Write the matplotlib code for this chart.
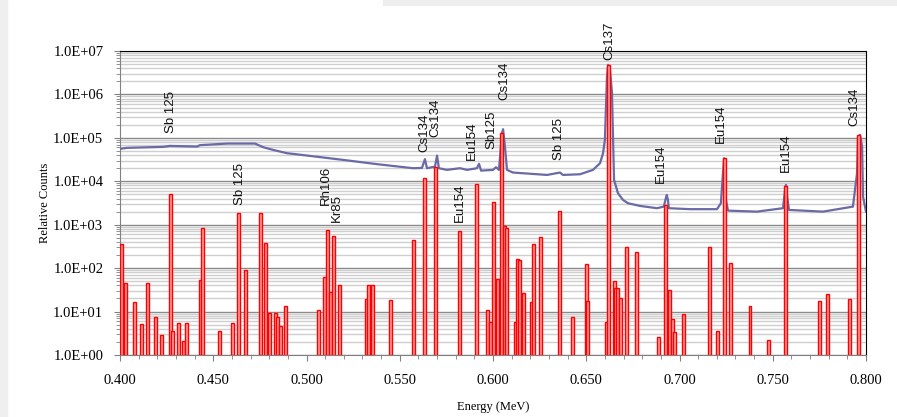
import matplotlib
matplotlib.use("Agg")
import matplotlib.pyplot as plt
from matplotlib.ticker import FuncFormatter, MultipleLocator, LogLocator, NullFormatter
from matplotlib.patches import Rectangle

# Measured spectrum (energy in MeV, relative counts)
spec_energy = [0.4000, 0.4038, 0.4231, 0.4268, 0.4413, 0.4429, 0.4574, 0.4724, 0.4767,
               0.4820, 0.4895, 0.5019, 0.5196, 0.5378, 0.5571, 0.5619, 0.5635, 0.5646,
               0.5689, 0.5700, 0.5710, 0.5753, 0.5823, 0.5861, 0.5914, 0.5925, 0.5936,
               0.6000, 0.6016, 0.6032, 0.6048, 0.6054, 0.6064, 0.6075, 0.6107, 0.6290,
               0.6359, 0.6375, 0.6466, 0.6536, 0.6574, 0.6590, 0.6600, 0.6611, 0.6617,
               0.6627, 0.6638, 0.6643, 0.6649, 0.6670, 0.6697, 0.6724, 0.6788, 0.6879,
               0.6916, 0.6927, 0.6932, 0.6938, 0.6943, 0.7056, 0.7201, 0.7222, 0.7233,
               0.7239, 0.7244, 0.7249, 0.7260, 0.7415, 0.7555, 0.7566, 0.7571, 0.7576,
               0.7587, 0.7769, 0.7930, 0.7952, 0.7957, 0.7968, 0.7973, 0.7979, 0.7984,
               0.8000]
spec_counts = [55800, 58900, 62000, 65300, 63000, 67900, 73900, 73900, 61100,
               52900, 44400, 38400, 31100, 24800, 20000, 20300, 32300, 20000,
               21800, 39100, 20000, 18300, 20000, 18300, 20000, 25200, 17600,
               18300, 21100, 18300, 128000, 158000, 63000, 18300, 15900, 14000,
               15900, 14000, 14500, 18300, 26100, 44400, 89900, 2.54e6, 4.81e6,
               3.68e6, 1.09e6, 128000, 10800, 5320, 3720, 3120, 2710, 2400,
               2610, 4140, 4850, 3720, 2400, 2280, 2280, 3130, 15400,
               34000, 18300, 3720, 2110, 2000, 2400, 6330, 8260, 4850,
               2190, 2000, 2610, 15400, 107000, 117000, 89900, 63000, 4440,
               2000]

# Library gamma lines (energy in MeV, relative intensity)
line_energy = [0.4008, 0.4032, 0.4078, 0.4113, 0.4145, 0.4190, 0.4223, 0.4273, 0.4284,
               0.4314, 0.4343, 0.4354, 0.4429, 0.4442, 0.4531, 0.4603, 0.4633, 0.4673,
               0.4753, 0.4780, 0.4804, 0.4834, 0.4847, 0.4863, 0.4885, 0.5062, 0.5094,
               0.5115, 0.5128, 0.5143, 0.5177, 0.5322, 0.5335, 0.5354, 0.5450, 0.5574,
               0.5635, 0.5694, 0.5823, 0.5914, 0.5973, 0.5987, 0.6005, 0.6024, 0.6043,
               0.6062, 0.6070, 0.6121, 0.6134, 0.6142, 0.6166, 0.6206, 0.6217, 0.6257,
               0.6357, 0.6426, 0.6499, 0.6506, 0.6609, 0.6617, 0.6649, 0.6657, 0.6670,
               0.6686, 0.6716, 0.6767, 0.6885, 0.6925, 0.6949, 0.6965, 0.6975, 0.7021,
               0.7161, 0.7206, 0.7239, 0.7276, 0.7378, 0.7477, 0.7571, 0.7751, 0.7791,
               0.7912, 0.7962]
line_counts = [360, 45, 16, 4.2, 45, 6.6, 1.9, 5100, 2.5,
               4.5, 1.1, 4.4, 53, 830, 2.5, 4.6, 1850, 91,
               1900, 370, 8.2, 8.2, 6.4, 3.6, 12.5, 9.8, 62,
               760, 27, 560, 39, 18, 39, 39, 17.5, 450,
               12000, 20900, 720, 8500, 9.8, 4.9, 3300, 55, 130000,
               930, 860, 4.9, 160, 155, 26, 15.5, 360, 530,
               2040, 6.6, 125, 16.7, 4.9, 4.8e6, 49, 34, 34,
               19.5, 310, 235, 1.6, 2900, 31, 5.7, 2.4, 7.9,
               300, 2.6, 34000, 127, 12.5, 1.2, 7800, 16.3, 25,
               18.5, 117000]

# Nuclide labels
label_names = ["Sb 125", "Sb 125", "Rh106", "Kr85", "Cs134", "Cs134", "Eu154", "Eu154",
               "Sb125", "Cs134", "Sb 125", "Cs137", "Eu154", "Eu154", "Eu154", "Cs134"]
label_energy = [0.4273, 0.4643, 0.5105, 0.5164, 0.5630, 0.5689, 0.5823, 0.5887,
                0.5989, 0.6059, 0.6354, 0.6622, 0.6901, 0.7223, 0.7571, 0.7936]
label_height = [130000, 2860, 2860, 1160, 47500, 105000, 1160, 31100,
                55800, 750000, 31100, 6.27e6, 9180, 76700, 16400, 189000]

fig = plt.figure(figsize=(8.97, 4.17), dpi=100)
ax = fig.add_axes([120/897, 1-355/417, 746/897, 304/417])

# frame bits of the screenshot
fig.patches.append(Rectangle((0, 0), 7/897, 1, transform=fig.transFigure,
                             color="#efefef", zorder=0))
fig.patches.append(Rectangle((383/897, 1-5/417), 1, 5/417, transform=fig.transFigure,
                             color="#eeeeee", zorder=0))

ax.set_yscale("log")
ax.set_xlim(0.4, 0.8)
ax.set_ylim(1, 1e7)

ax.plot(spec_energy, spec_counts, color="#6a6aa6", lw=1.6, zorder=3)
ax.bar(line_energy, line_counts, width=0.0016, bottom=1, facecolor="#ff9c9c",
       edgecolor="#ff0000", linewidth=1.0, zorder=4)

for name, e, h in zip(label_names, label_energy, label_height):
    ax.text(e, h, name, rotation=90, ha="center", va="bottom", fontsize=9.5,
            family="Liberation Sans", color="#111111", zorder=5, clip_on=False)

ax.yaxis.set_major_locator(LogLocator(base=10, numticks=10))
ax.yaxis.set_minor_locator(LogLocator(base=10, subs=range(2, 10), numticks=20))
ax.yaxis.set_minor_formatter(NullFormatter())
ax.yaxis.set_major_formatter(FuncFormatter(lambda v, p: f"{v:.1E}"))
ax.xaxis.set_major_locator(MultipleLocator(0.05))
ax.xaxis.set_minor_locator(MultipleLocator(0.01))
ax.xaxis.set_major_formatter(FuncFormatter(lambda v, p: f"{v:.3f}"))

ax.grid(True, which="major", axis="y", color="#8a8a8a", lw=1.0, zorder=0)
ax.grid(True, which="minor", axis="y", color="#cfcfcf", lw=1.0, zorder=0)
ax.set_axisbelow(True)

ax.tick_params(which="both", direction="out", color="#808080", labelsize=10.5)
ax.tick_params(which="major", length=4)
ax.tick_params(which="minor", length=3)
ax.tick_params(axis="y", pad=8)
ax.tick_params(axis="x", pad=10)
for lab in ax.get_xticklabels() + ax.get_yticklabels():
    lab.set_family("Liberation Serif")

for s in ["left", "bottom"]:
    ax.spines[s].set_color("#808080")
for s in ["top", "right"]:
    ax.spines[s].set_color("#000000")

ax.set_xlabel("Energy (MeV)", family="Liberation Serif", fontsize=9)
ax.set_ylabel("Relative Counts", family="Liberation Serif", fontsize=9)
ax.xaxis.set_label_coords(0.5, -0.15)
ax.yaxis.set_label_coords(-0.092, 0.5)

fig.savefig("out.png", dpi=100)
